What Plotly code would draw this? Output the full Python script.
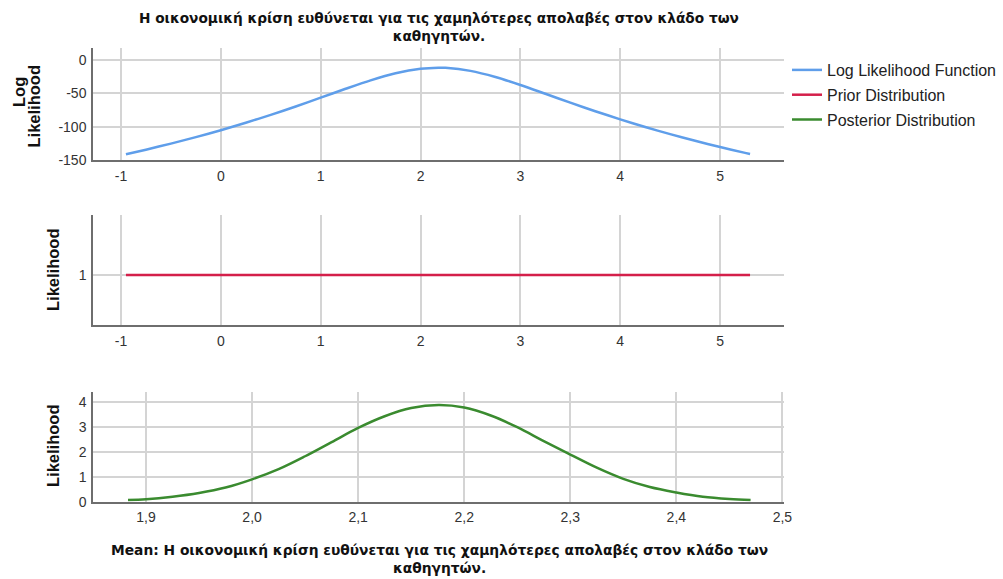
import plotly.graph_objects as go

# ---- data ----
title_text = "Η οικονομική κρίση ευθύνεται για τις χαμηλότερες απολαβές στον κλάδο των<br>καθηγητών."
xlabel_text = "Mean: Η οικονομική κρίση ευθύνεται για τις χαμηλότερες απολαβές στον κλάδο των<br>καθηγητών."

loglik_x = [-0.95, -0.75, -0.5, -0.25, 0.0, 0.25, 0.5, 0.75, 1.0, 1.25, 1.5, 1.75, 2.0, 2.18,
            2.25, 2.5, 2.75, 3.0, 3.25, 3.5, 3.75, 4.0, 4.25, 4.5, 4.75, 5.0, 5.25, 5.3]
loglik_y = [-141.3, -134.5, -125.4, -115.7, -105.3, -94.1, -82.3, -69.7, -56.5, -43.2, -30.5,
            -19.9, -13.1, -11.5, -11.7, -16.3, -25.5, -37.5, -50.7, -64.0, -76.8, -89.0,
            -100.5, -111.2, -121.2, -130.5, -139.3, -141.0]

prior_x = [-0.95, 5.3]
prior_y = [1.0, 1.0]

post_x = [1.883, 1.9, 1.925, 1.95, 1.975, 2.0, 2.025, 2.05, 2.075, 2.1, 2.125, 2.15, 2.176,
          2.2, 2.225, 2.25, 2.275, 2.3, 2.325, 2.35, 2.375, 2.4, 2.425, 2.45, 2.47]
post_y = [0.07, 0.10, 0.20, 0.35, 0.57, 0.90, 1.31, 1.83, 2.40, 2.97, 3.44, 3.77, 3.89,
          3.79, 3.47, 3.00, 2.44, 1.90, 1.37, 0.92, 0.59, 0.37, 0.20, 0.11, 0.07]

top_xticks = [-1, 0, 1, 2, 3, 4, 5]
top_xlabels = ["-1", "0", "1", "2", "3", "4", "5"]
top_yticks = [0, -50, -100, -150]
top_ylabels = ["0", "-50", "-100", "-150"]
mid_yticks = [1]
bot_xticks = [1.9, 2.0, 2.1, 2.2, 2.3, 2.4, 2.5]
bot_xlabels = ["1,9", "2,0", "2,1", "2,2", "2,3", "2,4", "2,5"]
bot_yticks = [0, 1, 2, 3, 4]

# ---- styling ----
W, H = 1003, 579
FONT = "Liberation Sans, Arial, sans-serif"
TFONT = "DejaVu Sans, sans-serif"
GRID = "#d4d4d4"
AXIS = "#6e6e6e"
BLUE = "#5f9eea"
RED = "#d41f4a"
GREEN = "#3a8b2f"
LW = 2.5

x_dom = [93 / W, 784 / W]


def ydom(top_px, bottom_px):
    return [1 - bottom_px / H, 1 - top_px / H]


fig = go.Figure()

fig.add_trace(go.Scatter(x=loglik_x, y=loglik_y, mode="lines", name="Log Likelihood Function",
                         line=dict(color=BLUE, width=LW, shape="spline", smoothing=0.8),
                         xaxis="x", yaxis="y", legendgroup="a"))
fig.add_trace(go.Scatter(x=prior_x, y=prior_y, mode="lines", name="Prior Distribution",
                         line=dict(color=RED, width=LW),
                         xaxis="x2", yaxis="y2", legendgroup="b"))
fig.add_trace(go.Scatter(x=post_x, y=post_y, mode="lines", name="Posterior Distribution",
                         line=dict(color=GREEN, width=LW, shape="spline", smoothing=1.0),
                         xaxis="x3", yaxis="y3", legendgroup="c"))

tick_font = dict(family=FONT, size=14, color="#333333")
common_x = dict(domain=x_dom, showgrid=True, gridcolor=GRID, gridwidth=1.5, zeroline=False,
                showline=True, linecolor=AXIS, linewidth=1.5, ticks="outside", ticklen=2,
                tickcolor="rgba(0,0,0,0)", tickfont=tick_font,
                automargin=False, fixedrange=True)
common_y = dict(showgrid=True, gridcolor=GRID, gridwidth=1.5, zeroline=False,
                showline=True, linecolor=AXIS, linewidth=1.5, ticks="outside", ticklen=2,
                tickcolor="rgba(0,0,0,0)", tickfont=tick_font,
                automargin=False, fixedrange=True)

title_font = dict(family=TFONT, size=13.7, color="#111111")
xlab_font = dict(family=TFONT, size=13.8, color="#111111")
ytitle_font = dict(family=FONT, size=16.5, color="#111111")


def ytitle(text, xc, yc):
    return dict(text="<b>" + text + "</b>", x=xc / W, y=1 - yc / H, xref="paper", yref="paper",
                xanchor="center", yanchor="middle", textangle=-90, showarrow=False,
                font=ytitle_font)


fig.update_layout(
    xaxis=dict(common_x, range=[-1.28, 5.64], tickvals=top_xticks, ticktext=top_xlabels, anchor="y"),
    yaxis=dict(common_y, domain=ydom(48, 160), range=[-150, 18], tickvals=top_yticks,
               ticktext=top_ylabels, anchor="x"),
    xaxis2=dict(common_x, range=[-1.28, 5.64], tickvals=top_xticks, ticktext=top_xlabels, anchor="y2"),
    yaxis2=dict(common_y, domain=ydom(215, 325), range=[0.5, 1.6], tickvals=mid_yticks, anchor="x2"),
    xaxis3=dict(common_x, range=[1.85, 2.5015], tickvals=bot_xticks, ticktext=bot_xlabels, anchor="y3"),
    yaxis3=dict(common_y, domain=ydom(391.7, 501.7), range=[0, 4.43], tickvals=bot_yticks, anchor="x3"),
    width=W, height=H,
    margin=dict(l=0, r=0, t=0, b=0),
    paper_bgcolor="white", plot_bgcolor="white",
    font=dict(family=FONT, size=12, color="#222222"),
    showlegend=True,
    legend=dict(x=787 / W, y=1 - 53 / H, xanchor="left", yanchor="top",
                font=dict(family=FONT, size=16, color="#222222"),
                tracegroupgap=1, bgcolor="rgba(0,0,0,0)", itemwidth=30),
    annotations=[
        dict(text="<b>" + title_text + "</b>", x=438.5 / W, y=1 - 8 / H, xref="paper", yref="paper",
             xanchor="center", yanchor="top", showarrow=False, font=title_font),
        dict(text="<b>" + xlabel_text + "</b>", x=439 / W, y=1 - 540 / H, xref="paper", yref="paper",
             xanchor="center", yanchor="top", showarrow=False, font=xlab_font),
        ytitle("Log", 19.5, 92.5),
        ytitle("Likelihood", 34, 106.5),
        ytitle("Likelihood", 53, 270),
        ytitle("Likelihood", 53, 446),
    ],
)

fig.write_html("out.html")
